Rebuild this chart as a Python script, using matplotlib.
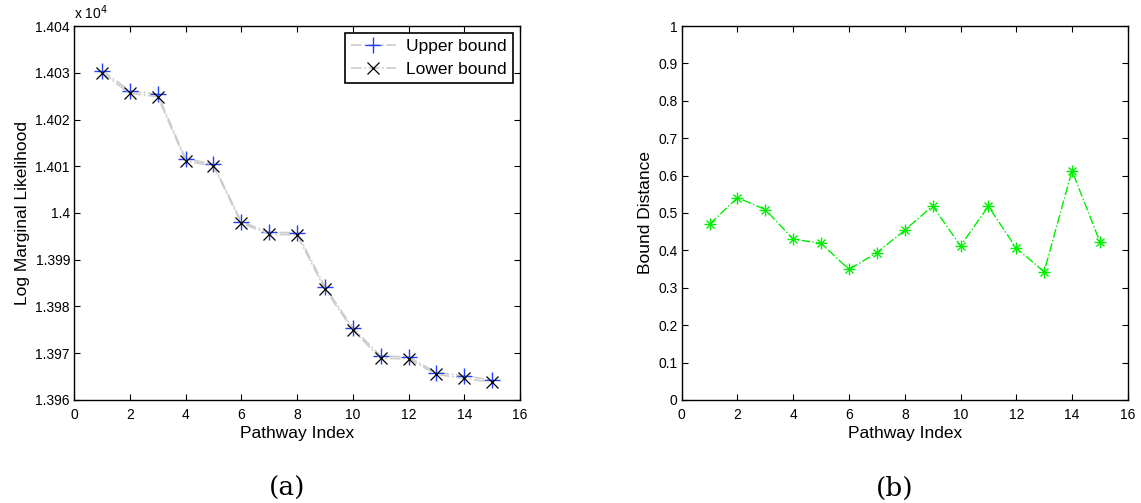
import matplotlib.pyplot as plt
import numpy as np

plt.rcParams['font.family'] = ['Liberation Sans', 'DejaVu Sans']

pathway = np.arange(1, 16)
lower_bound = [14030.0, 14025.6, 14024.9, 14011.2, 14010.0, 13997.8, 13995.5, 13995.3,
               13983.7, 13975.0, 13968.9, 13968.8, 13965.5, 13964.6, 13963.8]
bound_distance = [0.470, 0.541, 0.509, 0.430, 0.419, 0.349, 0.394, 0.454,
                  0.519, 0.412, 0.518, 0.406, 0.343, 0.613, 0.423]
upper_bound = [l + d for l, d in zip(lower_bound, bound_distance)]

left_ticks = [13960, 13970, 13980, 13990, 14000, 14010, 14020, 14030, 14040]
left_ticklabels = ['1.396', '1.397', '1.398', '1.399', '1.4', '1.401', '1.402', '1.403', '1.404']

fig = plt.figure(figsize=(11.41, 5.03), dpi=100)
ax1 = fig.add_axes([0.0649, 0.2048, 0.3909, 0.7435])
ax2 = fig.add_axes([0.5975, 0.2048, 0.3909, 0.7435])

for ax in (ax1, ax2):
    ax.tick_params(direction='in', top=True, right=True, labelsize=10, length=4, width=0.8)
    ax.tick_params(axis='x', pad=6)
    ax.tick_params(axis='y', pad=3)
    for s in ax.spines.values():
        s.set_linewidth(1.0)
    ax.set_xlim(0, 16)
    ax.set_xticks(range(0, 17, 2))
    ax.set_xlabel('Pathway Index', fontsize=12.5, labelpad=3)

# (a)
ax1.plot(pathway, upper_bound, color='#cccccc', linestyle='-.', linewidth=1.2,
         marker='+', markersize=11, markeredgecolor='#1f3fff', markeredgewidth=1.0,
         label='Upper bound')
ax1.plot(pathway, lower_bound, color='#cccccc', linestyle='-.', linewidth=1.2,
         marker='x', markersize=8, markeredgecolor='black', markeredgewidth=0.9,
         label='Lower bound')
ax1.set_ylim(13960, 14040)
ax1.set_yticks(left_ticks)
ax1.set_yticklabels(left_ticklabels)
ax1.set_ylabel('Log Marginal Likelihood', fontsize=12.5, labelpad=4)
ax1.text(0.0, 1.012, r'x 10$^{4}$', transform=ax1.transAxes, fontsize=10, va='bottom')
leg = ax1.legend(loc='upper right', fontsize=12.5, fancybox=False, framealpha=1,
                 edgecolor='black', borderaxespad=0.4, handlelength=2.6,
                 borderpad=0.35, labelspacing=0.45, handletextpad=0.6)
leg.get_frame().set_linewidth(1.2)

# (b) - MATLAB style '*' marker = '+' overlaid with 'x'
ax2.plot(pathway, bound_distance, color='#00ee00', linestyle='-.', linewidth=1.0,
         marker='+', markersize=8, markeredgewidth=1.0, markeredgecolor='#00ee00')
ax2.plot(pathway, bound_distance, linestyle='none',
         marker='x', markersize=6, markeredgewidth=1.0, markeredgecolor='#00ee00')
ax2.set_ylim(0, 1)
ax2.set_yticks(np.arange(0, 1.01, 0.1))
ax2.set_yticklabels(['0', '0.1', '0.2', '0.3', '0.4', '0.5', '0.6', '0.7', '0.8', '0.9', '1'])
ax2.set_ylabel('Bound Distance', fontsize=12.5, labelpad=4)

fig.text(287 / 1141, 1 - 488 / 503, '(a)', fontsize=19, family='DejaVu Serif',
         ha='center', va='center')
fig.text(895 / 1141, 1 - 488 / 503, '(b)', fontsize=19, family='DejaVu Serif',
         ha='center', va='center')

fig.savefig('out.png', dpi=100)
